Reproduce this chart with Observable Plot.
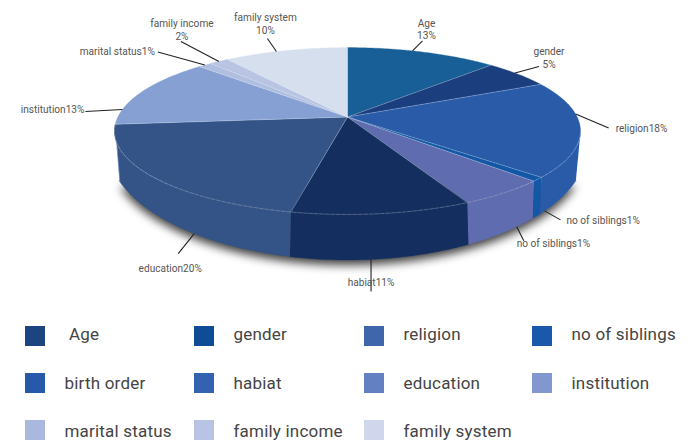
<!DOCTYPE html>
<html>
<head>
<meta charset="utf-8">
<script src="https://cdn.jsdelivr.net/npm/d3@7"></script>
<script src="https://cdn.jsdelivr.net/npm/@observablehq/plot@0.6"></script>
<style>
html,body{margin:0;padding:0;background:#fff;overflow:hidden}
#wrap{position:relative;width:692px;height:441px}
#legend{display:grid;grid-template-columns:169px 170px 168px 160px;grid-auto-rows:47px;position:absolute;left:25px;top:326px;
  font-family:Roboto,sans-serif;font-size:17px;letter-spacing:.2px;color:#444}
.it{display:flex;align-items:flex-start;white-space:pre}
.sw{width:20px;height:20px;flex:none}
.tx{line-height:17px;margin-left:19.5px}
</style>
</head>
<body>
<div id="wrap"><div id="chart"></div><div id="legend"></div></div>
<script>
// ---- data ----
const categories = ["Age","gender","religion","no of siblings","birth order","habiat","education","institution","marital status","family income","family system"];
const shares = [12.3,5.6,18.6,0.8,5.4,10.6,20.3,13.6,1.1,1.6,10.1];
const calloutTexts = ["Age\n13%","gender\n5%","religion18%","no of siblings1%","no of siblings1%","habiat11%","education20%","institution13%","marital status1%","family income\n2%","family system\n10%"];
const sliceColors = ["#185f98","#1b3f7e","#2a5ba9","#1358a6","#5f6cb0","#142f5f","#345487","#86a0d3","#b0bfe0","#b9c4e3","#d6dfee"];
const legendColors = ["#1c4480","#0f4c96","#3f65ab","#1a58aa","#2759ab","#3363b0","#6280c2","#8297cf","#aab8df","#b9c4e4","#d0d6ec"];

// ---- callout layout: angle nudge (deg), leader vector, text offset, anchor ----
const calloutLayout = [
  {nudge:-3,   lead:[10,-10],  text:[4,-12],  anchor:"middle"},
  {nudge:-1,   lead:[24,-6.5], text:[10,-9],  anchor:"middle"},
  {nudge:-10,  lead:[33,14],   text:[7,0],    anchor:"start"},
  {nudge:-3.5, lead:[16,9],    text:[6,0],    anchor:"start"},
  {nudge:-4,   lead:[7,14],    text:[-7,2],   anchor:"start"},
  {nudge:2.4,  lead:[0,32],    text:[0,-10],  anchor:"middle"},
  {nudge:-13.4,lead:[-16,20],  text:[-8,14],  anchor:"middle"},
  {nudge:-14,  lead:[-37,2],   text:[-1,-3],  anchor:"end"},
  {nudge:0,    lead:[-47,-13], text:[-3,-1],  anchor:"end"},
  {nudge:0,    lead:[-38,-20], text:[1,-12],  anchor:"middle"},
  {nudge:-2.8, lead:[-9,-13],  text:[-2,-15.5], anchor:"middle"}
];

// ---- pie geometry in the plot's own coordinate system ----
const view = {width:692, height:310};
const g = {cx:347, cy:116.5, a:229.7, b:81.1, k:0.168, fy:145, fx:240, fr:114.5, wallFrom:100, wallTo:265};
const rad = d => d*Math.PI/180;
const rimPt = deg => {
  const x = Math.sin(rad(deg)), y = Math.cos(rad(deg)), w = 1+g.k*y;
  return {X:g.cx+g.a*x/w, Y:g.cy-g.b*y/w};
};
const footPt = deg => {
  const t = rimPt(deg).X-g.cx;
  const d = t*(1.02-0.04*(t/233)**2);
  return {X:g.cx+d, Y:g.fy+g.fr*Math.sqrt(Math.max(0,1-(d/g.fx)**2))};
};
const arcs = d3.pie().sort(null).value(d=>d)(shares).map((s,i)=>({i,from:s.startAngle*180/Math.PI,to:s.endAngle*180/Math.PI}));
const sample = (f,a,b) => { const n=Math.max(2,Math.ceil(Math.abs(b-a))*2); return d3.range(n+1).map(j=>f(a+(b-a)*j/n)); };
const pathMark = (pts,o) => Plot.line(pts,{x:"X",y:"Y",...o});

const marks = [];
// shadow under the disc
const shadowPts = sample(footPt,g.wallFrom,g.wallTo);
marks.push(Plot.line(shadowPts,{x:"X",y:d=>d.Y+5,fill:"#000",fillOpacity:0.75,stroke:"none",imageFilter:"blur(5px)"}));
// walls
for (const s of arcs) {
  const a=Math.max(s.from,g.wallFrom), b=Math.min(s.to,g.wallTo);
  if (a>=b) continue;
  const pts=[...sample(rimPt,a,b),...sample(footPt,a,b).reverse()];
  marks.push(pathMark(pts,{fill:sliceColors[s.i],stroke:sliceColors[s.i],strokeWidth:0.4}));
}
// top faces
const apex={X:g.cx,Y:g.cy};
for (const s of arcs) {
  marks.push(pathMark([apex,...sample(rimPt,s.from,s.to)],{fill:sliceColors[s.i],stroke:sliceColors[s.i],strokeWidth:0.3}));
}
// seams
for (const s of arcs) {
  marks.push(pathMark([apex,rimPt(s.from)],{stroke:"#dfe7f5",strokeOpacity:0.45,strokeWidth:0.6}));
}
marks.push(pathMark(sample(rimPt,g.wallFrom,g.wallTo),{stroke:"#dfe7f5",strokeOpacity:0.5,strokeWidth:0.6,strokeDasharray:"4,1.5"}));
// callouts
const callouts = arcs.map(s=>{
  const L=calloutLayout[s.i], deg=(s.from+s.to)/2+L.nudge;
  const onWall = deg>g.wallFrom+5 && deg<g.wallTo-5;
  const p = onWall ? footPt(deg) : rimPt(deg);
  const e = {X:p.X+L.lead[0],Y:p.Y+L.lead[1]};
  return {x1:p.X,y1:p.Y,x2:e.X,y2:e.Y,tx:e.X+L.text[0],ty:e.Y+L.text[1],label:calloutTexts[s.i],anchor:L.anchor};
});
marks.push(Plot.link(callouts,{x1:"x1",y1:"y1",x2:"x2",y2:"y2",stroke:"#222",strokeWidth:1.1}));
for (const anchor of ["start","middle","end"]) {
  marks.push(Plot.text(callouts.filter(d=>d.anchor===anchor),{x:"tx",y:"ty",text:"label",textAnchor:anchor,lineHeight:1.27,fill:"#555",fontSize:10.1,fontFamily:"Roboto, sans-serif"}));
}

document.getElementById("chart").append(Plot.plot({
  width:view.width,height:view.height,margin:0,
  x:{domain:[0,view.width],range:[0,view.width],axis:null},
  y:{domain:[0,view.height],range:[0,view.height],axis:null},
  style:{overflow:"visible",background:"transparent"},
  marks
}));

// legend
const legendNames = categories.map((c,i)=>i===0?" "+c:c);
const legendTextDrop = [0,2,3];
const lg=document.getElementById("legend");
legendNames.forEach((n,i)=>{
  const it=document.createElement("div");it.className="it";
  const sw=document.createElement("span");sw.className="sw";sw.style.background=legendColors[i];
  const tx=document.createElement("span");tx.className="tx";tx.textContent=n;tx.style.marginTop=legendTextDrop[Math.floor(i/4)]+"px";
  it.append(sw,tx);lg.append(it);
});
</script>
</body>
</html>
